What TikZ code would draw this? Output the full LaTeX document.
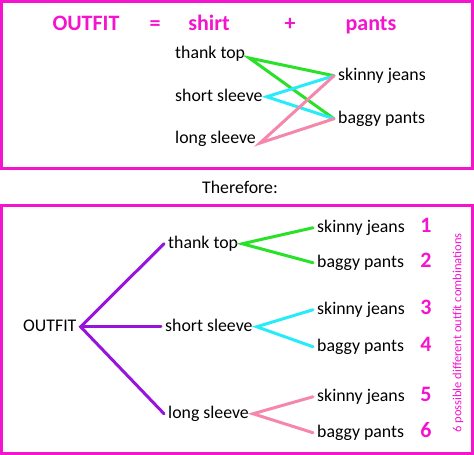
\documentclass[tikz,border=0pt]{standalone}
\usepackage{fontspec}
\setmainfont{Carlito}
\definecolor{hotpink}{RGB}{245,20,205}
\definecolor{brgreen}{RGB}{40,225,40}
\definecolor{brcyan}{RGB}{40,235,250}
\definecolor{brpink}{RGB}{245,135,170}
\definecolor{brpurple}{RGB}{150,20,220}
\begin{document}
\begin{tikzpicture}[x=1pt,y=-1pt,
    lbl/.style={anchor=west,inner sep=4pt,text height=12pt,text depth=3.5pt,font=\fontsize{17.8}{21}\selectfont},
    ttl/.style={anchor=base,text=hotpink,font=\fontsize{22}{26}\selectfont\bfseries},
    frame/.style={draw=hotpink,line width=3pt},
    br/.style={line width=3pt,line cap=round}]
    \useasboundingbox (0,0) rectangle (474,455);
    % top box: outfit = shirt + pants
    \draw[frame] (1.5,1.5) rectangle (472.5,168);
    \node[ttl] (t1) at (86,30) {OUTFIT};
    \node[ttl] (t2) at (155,30) {=};
    \node[ttl] (t3) at (209,30) {shirt};
    \node[ttl] (t4) at (290,30) {+};
    \node[ttl] (t5) at (371,30) {pants};
    \node[lbl] (tt) at (171,53.75) {thank top};
    \node[lbl] (ss) at (171,96.75) {short sleeve};
    \node[lbl] (ls) at (171,138.75) {long sleeve};
    \node[lbl] (sj) at (334,75.75) {skinny jeans};
    \node[lbl] (bp) at (334,118.75) {baggy pants};
    \draw[br,brgreen] (sj.west) -- (tt.base east) -- (bp.west);
    \draw[br,brcyan] (sj.west) -- (ss.east) -- (bp.west);
    \draw[br,brpink] (sj.west) -- (ls.base east) -- (bp.west);
    \node[lbl,anchor=base] (th) at (240,193) {Therefore:};
    % bottom box: tree
    \draw[frame] (1.5,205.5) rectangle (472.5,453.5);
    \node[lbl] (out) at (19,326.75) {OUTFIT};
    \node[lbl] (btt) at (164,243.75) {thank top};
    \node[lbl] (bss) at (161,326.75) {short sleeve};
    \node[lbl] (bls) at (164,413.75) {long sleeve};
    \node[lbl] (sj1) at (313,227.75) {skinny jeans};
    \node[lbl] (bp1) at (313,262.75) {baggy pants};
    \node[lbl] (sj2) at (313,309.75) {skinny jeans};
    \node[lbl] (bp2) at (313,346.75) {baggy pants};
    \node[lbl] (sj3) at (313,396.75) {skinny jeans};
    \node[lbl] (bp3) at (313,432.75) {baggy pants};
    \draw[br,brpurple] (btt.west) -- (out.east) -- (bls.west);
    \draw[br,brpurple] (out.east) -- (bss.west);
    \draw[br,brgreen] (sj1.west) -- (btt.east) -- (bp1.west);
    \draw[br,brcyan] (sj2.west) -- (bss.east) -- (bp2.west);
    \draw[br,brpink] (sj3.west) -- (bls.east) -- (bp3.west);
    \foreach \k/\y in {1/232,2/267,3/314,4/351,5/401,6/437}
        \node[ttl] (n\k) at (426,\y) {\k};
    \node[rotate=90,text=hotpink,font=\fontsize{12.5}{15}\selectfont] (combi) at (458,333) {6 possible different outfit combinations};
\end{tikzpicture}
\end{document}
